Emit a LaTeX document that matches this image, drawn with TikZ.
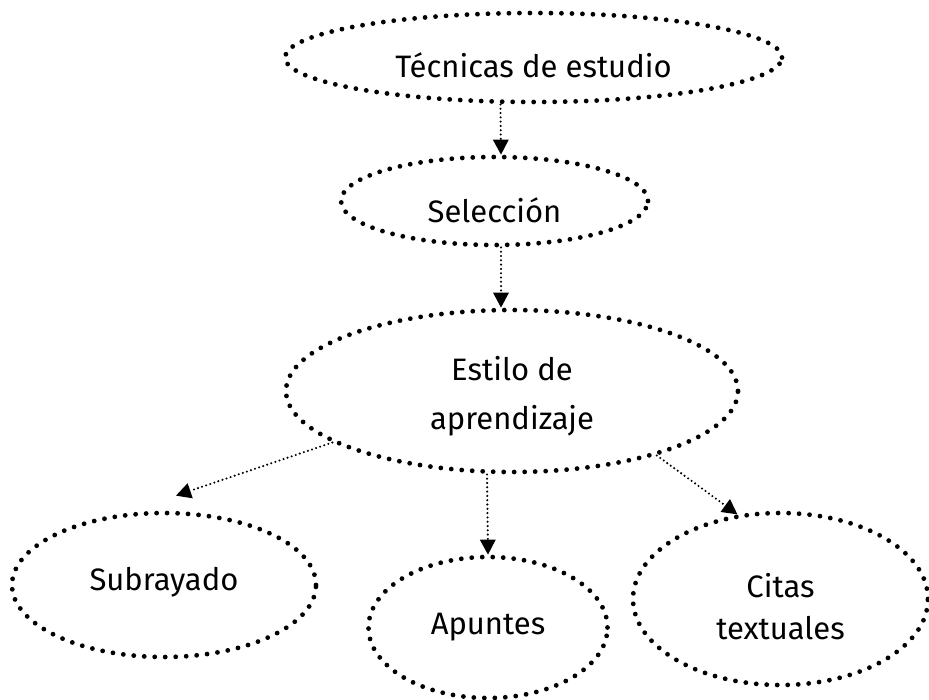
\documentclass[tikz,border=0pt]{standalone}
\usepackage{fontspec}
\setmainfont{Fira Sans}
\usetikzlibrary{arrows.meta,shapes.geometric}
\begin{document}
\begin{tikzpicture}[x=1pt,y=-1pt,
  bubble/.style={ellipse,draw,line width=4.8pt,line cap=round,
    dash pattern=on 0pt off 10.5pt,inner sep=0pt},
  lbl/.style={align=center,inner sep=0pt,font=\fontsize{31}{49}\selectfont},
  link/.style={line width=2.3pt,line cap=round,dash pattern=on 0pt off 4.3pt,
    -{Triangle[length=15pt,width=16pt,line width=0pt]}}]
\useasboundingbox (0,0) rectangle (929,699);
\node[bubble,minimum width=497pt,minimum height=89pt,
  label={[lbl,yshift=-8pt]center:Técnicas de estudio}] (tec) at (533.5,57.5) {};
\node[bubble,minimum width=307pt,minimum height=88pt,
  label={[lbl,yshift=-9pt]center:Selección}] (sel) at (494.5,201) {};
\node[bubble,minimum width=452pt,minimum height=162pt,
  label={[lbl,yshift=-5pt]center:Estilo de\\aprendizaje}] (est) at (512,391) {};
\node[bubble,minimum width=304pt,minimum height=144pt,
  label={[lbl,yshift=3pt]center:Subrayado}] (sub) at (164,585) {};
\node[bubble,minimum width=239pt,minimum height=141pt,
  label={[lbl,yshift=0pt]center:Apuntes}] (apu) at (488,627.5) {};
\node[bubble,minimum width=295pt,minimum height=172pt,
  label={[lbl,font=\fontsize{31}{42}\selectfont,yshift=-8pt]center:Citas\\textuales}] (cit) at (780.5,599) {};
\draw[link] ([xshift=-33pt]tec.south) -- ([xshift=6.5pt]sel.north);
\draw[link] ([xshift=6.5pt]sel.south) -- ([xshift=-11pt]est.north);
\draw[link] (est.196) -- ([shift={(12,-15)}]sub.north);
\draw[link] ([xshift=-25pt]est.south) -- (apu.north);
\draw[link] (est.336) -- (cit.117);
\end{tikzpicture}
\end{document}
